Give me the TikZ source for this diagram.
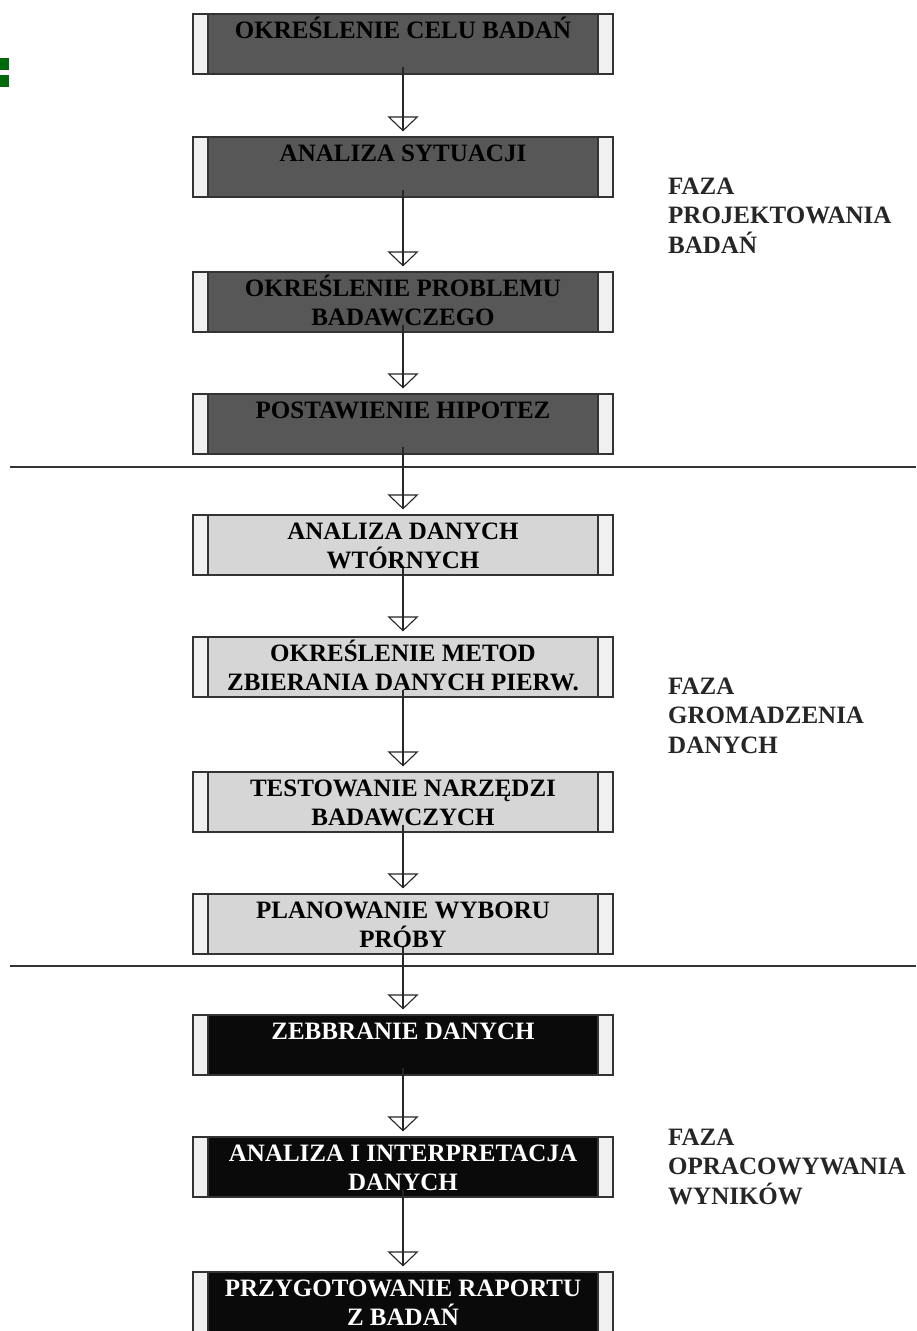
\documentclass[tikz,border=0pt]{standalone}
\usepackage{fontspec}
\setmainfont{Liberation Serif}
\usetikzlibrary{arrows.meta}
\definecolor{darkfill}{HTML}{575757}
\definecolor{lightfill}{HTML}{D6D6D6}
\definecolor{blackfill}{HTML}{0A0A0A}
\definecolor{sidebar}{HTML}{F0F0F0}
\definecolor{bordercol}{HTML}{333333}
\definecolor{markgreen}{HTML}{006A0A}
\tikzset{
  stagebox/.style={draw=bordercol, line width=1.2pt, minimum width=420pt, minimum height=60pt, inner sep=0pt,
    path picture={
      \fill[sidebar] (path picture bounding box.north west) rectangle ([xshift=15pt]path picture bounding box.south west);
      \fill[sidebar] (path picture bounding box.north east) rectangle ([xshift=-15pt]path picture bounding box.south east);
      \draw[bordercol,line width=1.2pt] ([xshift=15pt]path picture bounding box.north west) -- ([xshift=15pt]path picture bounding box.south west);
      \draw[bordercol,line width=1.2pt] ([xshift=-15pt]path picture bounding box.north east) -- ([xshift=-15pt]path picture bounding box.south east);
    }},
  darkbox/.style={stagebox, fill=darkfill},
  lightbox/.style={stagebox, fill=lightfill},
  blackbox/.style={stagebox, fill=blackfill},
  boxtext/.style={anchor=north, inner sep=0pt, align=center, font=\fontsize{25}{29}\selectfont\bfseries},
  phasetext/.style={anchor=north west, inner sep=0pt, align=left, font=\fontsize{25}{29.5}\selectfont\bfseries, text=black!85},
  flowline/.style={draw=black!85, line width=1.1pt},
  flowarrow/.style={draw=black!85, line width=1.1pt, -{Triangle[open, width=31pt, length=15pt, line width=1.1pt]}},
  divider/.style={draw=black!80, line width=1.5pt}
}
\newcommand{\fl}{\rule{0pt}{23pt}}
\begin{document}
\begin{tikzpicture}[x=1pt,y=-1pt]
\useasboundingbox[fill=white] (0,0) rectangle (916,1331);
% green mark
\fill[markgreen] (0,58) rectangle (9,70);
\fill[markgreen] (0,75) rectangle (9,87);
% dividers
\coordinate (d1l) at (10,467); \coordinate (d1r) at (916,467);
\coordinate (d2l) at (10,966); \coordinate (d2r) at (916,966);
\draw[divider] (d1l) -- (d1r);
\draw[divider] (d2l) -- (d2r);
% boxes
\node[darkbox] (b1) at (403,44) {};
\node[darkbox] (b2) at (403,167) {};
\node[darkbox] (b3) at (403,302) {};
\node[darkbox] (b4) at (403,424) {};
\node[lightbox] (b5) at (403,545) {};
\node[lightbox] (b6) at (403,667) {};
\node[lightbox] (b7) at (403,802) {};
\node[lightbox] (b8) at (403,924) {};
\node[blackbox] (b9) at (403,1045) {};
\node[blackbox] (b10) at (403,1167) {};
\node[blackbox] (b11) at (403,1302) {};
% connectors
\foreach \s/\t in {b1/b2,b2/b3,b3/b4,b4/b5,b5/b6,b6/b7,b7/b8,b8/b9,b9/b10,b10/b11}{
  \draw[flowline] ([yshift=8pt]\s.south) -- ([yshift=5pt]\t.north);
  \draw[flowarrow] ([yshift=8pt]\s.south) -- ([yshift=5pt]\t.north);
}
% texts
\node[boxtext] (t1) at ([yshift=-2pt]b1.north) {\fl OKREŚLENIE CELU BADAŃ};
\node[boxtext] (t2) at ([yshift=-2pt]b2.north) {\fl ANALIZA SYTUACJI};
\node[boxtext] (t3) at ([yshift=-2pt]b3.north) {\fl OKREŚLENIE PROBLEMU\\BADAWCZEGO};
\node[boxtext] (t4) at ([yshift=-2pt]b4.north) {\fl POSTAWIENIE HIPOTEZ};
\node[boxtext] (t5) at ([yshift=-2pt]b5.north) {\fl ANALIZA DANYCH\\WTÓRNYCH};
\node[boxtext] (t6) at ([yshift=-2pt]b6.north) {\fl OKREŚLENIE METOD\\ZBIERANIA DANYCH PIERW.};
\node[boxtext] (t7) at ([yshift=-2pt]b7.north) {\fl TESTOWANIE NARZĘDZI\\BADAWCZYCH};
\node[boxtext] (t8) at ([yshift=-2pt]b8.north) {\fl PLANOWANIE WYBORU\\PRÓBY};
\node[boxtext, text=white] (t9) at ([yshift=-2pt]b9.north) {\fl ZEBBRANIE DANYCH};
\node[boxtext, text=white] (t10) at ([yshift=-2pt]b10.north) {\fl ANALIZA I INTERPRETACJA\\DANYCH};
\node[boxtext, text=white] (t11) at ([yshift=-2pt]b11.north) {\fl PRZYGOTOWANIE RAPORTU\\Z BADAŃ};
% phase labels
\node[phasetext] (p1) at (668,171) {\fl FAZA\\PROJEKTOWANIA\\BADAŃ};
\node[phasetext] (p2) at (668,671) {\fl FAZA\\GROMADZENIA\\DANYCH};
\node[phasetext] (p3) at (668,1122) {\fl FAZA\\OPRACOWYWANIA\\WYNIKÓW};
\end{tikzpicture}
\end{document}
